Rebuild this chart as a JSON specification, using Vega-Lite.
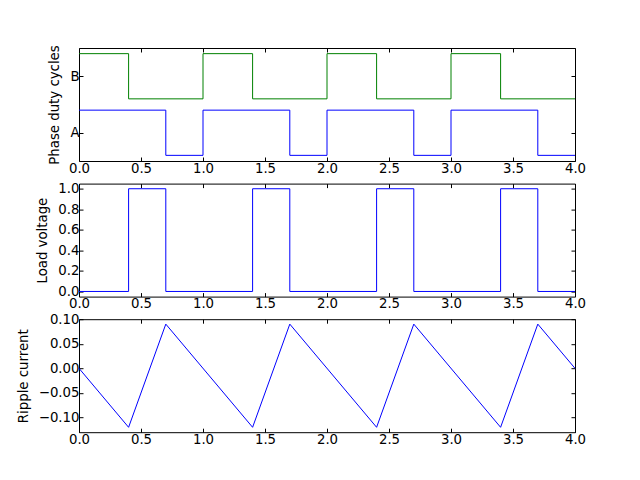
{
  "$schema": "https://vega.github.io/schema/vega-lite/v6.json",
  "padding": {"left": 15, "top": 44, "right": 60, "bottom": 20},
  "bounds": "flush",
  "spacing": 22.6,
  "config": {
    "font": "DejaVu Sans",
    "view": {"stroke": "black", "strokeWidth": 1},
    "axis": {
      "grid": false, "domain": false, "tickColor": "black", "tickSize": -4, "tickWidth": 1,
      "labelFontSize": 13.3, "labelColor": "black", "labelFont": "DejaVu Sans", "labelPadding": 4, "labelFlush": false,
      "titleFontSize": 13.3, "titleFontWeight": "normal", "titleColor": "black", "titleFont": "DejaVu Sans", "titlePadding": 8
    }
  },
  "vconcat": [
    {
      "width": 496, "height": 113,
      "data": {"values": [
        {"t": 0, "v": 0.4, "phase": "A"}, {"t": 0.7, "v": -0.4, "phase": "A"}, {"t": 1.0, "v": 0.4, "phase": "A"},
        {"t": 1.7, "v": -0.4, "phase": "A"}, {"t": 2.0, "v": 0.4, "phase": "A"}, {"t": 2.7, "v": -0.4, "phase": "A"},
        {"t": 3.0, "v": 0.4, "phase": "A"}, {"t": 3.7, "v": -0.4, "phase": "A"}, {"t": 4.0, "v": -0.4, "phase": "A"},
        {"t": 0, "v": 1.4, "phase": "B"}, {"t": 0.4, "v": 0.6, "phase": "B"}, {"t": 1.0, "v": 1.4, "phase": "B"},
        {"t": 1.4, "v": 0.6, "phase": "B"}, {"t": 2.0, "v": 1.4, "phase": "B"}, {"t": 2.4, "v": 0.6, "phase": "B"},
        {"t": 3.0, "v": 1.4, "phase": "B"}, {"t": 3.4, "v": 0.6, "phase": "B"}, {"t": 4.0, "v": 0.6, "phase": "B"}
      ]},
      "layer": [
        {
          "mark": {"type": "line", "interpolate": "step-after", "strokeWidth": 1},
          "encoding": {
            "x": {"field": "t", "type": "quantitative", "scale": {"domain": [0, 4], "nice": false, "zero": false},
                  "axis": {"orient": "bottom", "values": [0, 0.5, 1, 1.5, 2, 2.5, 3, 3.5, 4], "format": ".1f", "title": null}},
            "y": {"field": "v", "type": "quantitative", "scale": {"domain": [-0.5, 1.5], "nice": false, "zero": false},
                  "axis": {"orient": "left", "values": [0, 1], "labelExpr": "datum.value == 0 ? 'A' : 'B'", "title": "Phase duty cycles"}},
            "color": {"field": "phase", "type": "nominal", "scale": {"domain": ["A", "B"], "range": ["#0000ff", "#008000"]}, "legend": null}
          }
        },
        {
          "mark": {"type": "line", "opacity": 0},
          "encoding": {
            "x": {"field": "t", "type": "quantitative", "axis": {"orient": "top", "values": [0, 0.5, 1, 1.5, 2, 2.5, 3, 3.5, 4], "labels": false, "title": null}},
            "y": {"field": "v", "type": "quantitative", "axis": {"orient": "right", "values": [0, 1], "labels": false, "title": null}},
            "detail": {"field": "phase", "type": "nominal"}
          }
        }
      ]
    },
    {
      "width": 496, "height": 113,
      "data": {"values": [
        {"t": 0, "v": 0}, {"t": 0.4, "v": 1}, {"t": 0.7, "v": 0}, {"t": 1.4, "v": 1}, {"t": 1.7, "v": 0},
        {"t": 2.4, "v": 1}, {"t": 2.7, "v": 0}, {"t": 3.4, "v": 1}, {"t": 3.7, "v": 0}, {"t": 4.0, "v": 0}
      ]},
      "layer": [
        {
          "mark": {"type": "line", "interpolate": "step-after", "strokeWidth": 1, "color": "#0000ff"},
          "encoding": {
            "x": {"field": "t", "type": "quantitative", "scale": {"domain": [0, 4], "nice": false, "zero": false},
                  "axis": {"orient": "bottom", "values": [0, 0.5, 1, 1.5, 2, 2.5, 3, 3.5, 4], "format": ".1f", "title": null}},
            "y": {"field": "v", "type": "quantitative", "scale": {"domain": [-0.05, 1.05], "nice": false, "zero": false},
                  "axis": {"orient": "left", "values": [0, 0.2, 0.4, 0.6, 0.8, 1.0], "format": ".1f", "title": "Load voltage"}}
          }
        },
        {
          "mark": {"type": "line", "opacity": 0},
          "encoding": {
            "x": {"field": "t", "type": "quantitative", "axis": {"orient": "top", "values": [0, 0.5, 1, 1.5, 2, 2.5, 3, 3.5, 4], "labels": false, "title": null}},
            "y": {"field": "v", "type": "quantitative", "axis": {"orient": "right", "values": [0, 0.2, 0.4, 0.6, 0.8, 1.0], "labels": false, "title": null}}
          }
        }
      ]
    },
    {
      "width": 496, "height": 113,
      "data": {"values": [
        {"t": 0, "v": 0}, {"t": 0.4, "v": -0.12}, {"t": 0.7, "v": 0.09}, {"t": 1.4, "v": -0.12}, {"t": 1.7, "v": 0.09},
        {"t": 2.4, "v": -0.12}, {"t": 2.7, "v": 0.09}, {"t": 3.4, "v": -0.12}, {"t": 3.7, "v": 0.09}, {"t": 4.0, "v": 0}
      ]},
      "layer": [
        {
          "mark": {"type": "line", "strokeWidth": 1, "color": "#0000ff"},
          "encoding": {
            "x": {"field": "t", "type": "quantitative", "scale": {"domain": [0, 4], "nice": false, "zero": false},
                  "axis": {"orient": "bottom", "values": [0, 0.5, 1, 1.5, 2, 2.5, 3, 3.5, 4], "format": ".1f", "title": null}},
            "y": {"field": "v", "type": "quantitative", "scale": {"domain": [-0.13, 0.1], "nice": false, "zero": false},
                  "axis": {"orient": "left", "values": [-0.1, -0.05, 0, 0.05, 0.1], "format": ".2f", "title": "Ripple current"}}
          }
        },
        {
          "mark": {"type": "line", "opacity": 0},
          "encoding": {
            "x": {"field": "t", "type": "quantitative", "axis": {"orient": "top", "values": [0, 0.5, 1, 1.5, 2, 2.5, 3, 3.5, 4], "labels": false, "title": null}},
            "y": {"field": "v", "type": "quantitative", "axis": {"orient": "right", "values": [-0.1, -0.05, 0, 0.05, 0.1], "labels": false, "title": null}}
          }
        }
      ]
    }
  ]
}
